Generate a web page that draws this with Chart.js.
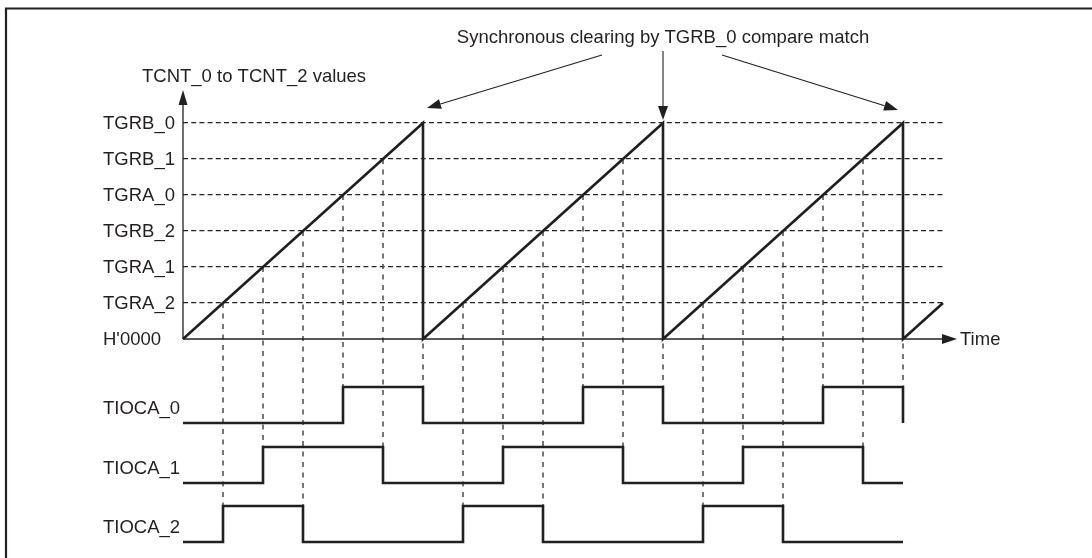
<!DOCTYPE html>
<html>
<head>
<meta charset="utf-8">
<script src="https://cdn.jsdelivr.net/npm/chart.js@4.4.0/dist/chart.umd.min.js"></script>
<style>
  html, body { margin: 0; padding: 0; background: #fff; }
  canvas { display: block; }
</style>
</head>
<body>
<canvas id="timing" width="1092" height="558"></canvas>
<script>
// ---- counter compare levels (y ticks) ----
const levelLabels = ["H'0000", "TGRA_2", "TGRA_1", "TGRB_2", "TGRA_0", "TGRB_1", "TGRB_0"];

// ---- TCNT sawtooth ----
const counterTime  = [0, 6, 6, 12, 12, 18, 18, 19];
const counterValue = [0, 6, 0, 6, 0, 6, 0, 1];

// ---- output waveforms ----
const signalNames = ["TIOCA_0", "TIOCA_1", "TIOCA_2"];
const tioca0Time  = [0, 4, 6, 10, 12, 16, 18];
const tioca0Value = [0, 1, 0, 1, 0, 1, 0];
const tioca1Time  = [0, 2, 5, 8, 11, 14, 17, 18];
const tioca1Value = [0, 1, 0, 1, 0, 1, 0, 0];
const tioca2Time  = [0, 1, 3, 7, 9, 13, 15, 18];
const tioca2Value = [0, 1, 0, 1, 0, 1, 0, 0];

// ---- compare matches: time, counter level, output index ----
const matchTime   = [1, 2, 3, 4, 5, 6, 7, 8, 9, 10, 11, 12, 13, 14, 15, 16, 17, 18];
const matchLevel  = [1, 2, 3, 4, 5, 6, 1, 2, 3, 4, 5, 6, 1, 2, 3, 4, 5, 6];
const matchOutput = [2, 1, 2, 0, 1, 0, 2, 1, 2, 0, 1, 0, 2, 1, 2, 0, 1, 0];

const clearTime = [6, 12, 18];
const noteText = "Synchronous clearing by TGRB_0 compare match";
const yTitle = "TCNT_0 to TCNT_2 values";
const xTitle = "Time";

const INK = "#231f20";
const FONT = '18.5px "Liberation Sans", Arial, Helvetica, sans-serif';

const xy = (t, v) => t.map((x, i) => ({ x, y: v[i] }));

function arrow(ctx, x1, y1, x2, y2, len, half) {
  const a = Math.atan2(y2 - y1, x2 - x1);
  const bx = x2 - Math.cos(a) * len, by = y2 - Math.sin(a) * len;
  ctx.beginPath();
  ctx.moveTo(x1, y1);
  ctx.lineTo(bx, by);
  ctx.stroke();
  ctx.beginPath();
  ctx.moveTo(x2, y2);
  ctx.lineTo(bx + Math.sin(a) * half, by - Math.cos(a) * half);
  ctx.lineTo(bx - Math.sin(a) * half, by + Math.cos(a) * half);
  ctx.closePath();
  ctx.fill();
}

// vertical dashed guides from the counter down to the output edges
const guidesPlugin = {
  id: "guides",
  beforeDatasetsDraw(chart) {
    const { ctx, scales } = chart;
    const sig = [scales.yS0, scales.yS1, scales.yS2];
    ctx.save();
    ctx.strokeStyle = "#4a4a4a";
    ctx.lineWidth = 1.5;
    ctx.setLineDash([5, 5.5]);
    matchTime.forEach((t, i) => {
      const x = Math.round(scales.x.getPixelForValue(t));
      const y1 = scales.y.getPixelForValue(matchLevel[i]);
      const y2 = sig[matchOutput[i]].getPixelForValue(1);
      ctx.beginPath();
      ctx.moveTo(x, y1);
      ctx.lineTo(x, y2);
      ctx.stroke();
    });
    ctx.restore();
  }
};

// frame, axes with arrows, labels and the note
const decorPlugin = {
  id: "decor",
  afterDatasetsDraw(chart) {
    const { ctx, scales } = chart;
    const x0 = scales.x.getPixelForValue(0);
    const y0 = scales.y.getPixelForValue(0);
    ctx.save();
    ctx.strokeStyle = INK;
    ctx.fillStyle = INK;

    // frame (top + left)
    ctx.lineWidth = 2.2;
    ctx.beginPath();
    ctx.moveTo(6, 558);
    ctx.lineTo(6, 8.5);
    ctx.lineTo(1092, 8.5);
    ctx.stroke();

    // axes
    ctx.lineWidth = 1.3;
    arrow(ctx, x0, y0, x0, 90, 15, 4.5);
    arrow(ctx, x0, y0, 957, y0, 15, 5);

    ctx.font = FONT;
    ctx.textBaseline = "middle";
    ctx.textAlign = "left";
    ctx.fillText(xTitle, 960, y0 + 1);
    ctx.fillText(yTitle, 142, 77);

    levelLabels.forEach((lab, i) => {
      ctx.fillText(lab, 103, scales.y.getPixelForValue(i) + 1);
    });
    [scales.yS0, scales.yS1, scales.yS2].forEach((s, i) => {
      ctx.fillText(signalNames[i], 103, s.getPixelForValue(0.4));
    });

    // note + arrows to the clearing points
    const peakY = scales.y.getPixelForValue(6);
    const px = clearTime.map((t) => scales.x.getPixelForValue(t));
    ctx.textAlign = "center";
    ctx.fillText(noteText, px[1], 38);
    ctx.lineWidth = 1.1;
    arrow(ctx, px[1] - 61, 55, px[0] + 4, peakY - 15, 14, 5);
    arrow(ctx, px[1], 51, px[1], peakY - 3, 14, 5);
    arrow(ctx, px[1] + 59, 55, px[2] - 5, peakY - 13, 14, 5);
    ctx.restore();
  }
};

const lineStyle = {
  borderColor: INK,
  borderWidth: 2.6,
  pointRadius: 0,
  tension: 0,
  clip: false,
  fill: false
};

new Chart(document.getElementById("timing"), {
  type: "line",
  data: {
    datasets: [
      { ...lineStyle, label: "TCNT", data: xy(counterTime, counterValue), yAxisID: "y" },
      { ...lineStyle, label: signalNames[0], data: xy(tioca0Time, tioca0Value), yAxisID: "yS0", stepped: true },
      { ...lineStyle, label: signalNames[1], data: xy(tioca1Time, tioca1Value), yAxisID: "yS1", stepped: true },
      { ...lineStyle, label: signalNames[2], data: xy(tioca2Time, tioca2Value), yAxisID: "yS2", stepped: true }
    ]
  },
  options: {
    responsive: false,
    animation: false,
    devicePixelRatio: 1,
    layout: { padding: { left: 103, top: 87, right: 149, bottom: 3 } },
    plugins: { legend: { display: false }, tooltip: { enabled: false } },
    scales: {
      x: { type: "linear", min: 0, max: 19, display: false },
      y: {
        type: "linear",
        position: "left",
        min: -6,
        max: 7,
        afterFit: (s) => { s.width = 80; },
        afterBuildTicks: (s) => { s.ticks = levelLabels.map((_, i) => ({ value: i })); },
        ticks: { display: false },
        grid: {
          drawTicks: false,
          lineWidth: 1.2,
          color: (c) => (c.tick && c.tick.value > 0 ? "#222222" : "rgba(0,0,0,0)")
        },
        border: { display: false, dash: [5, 3.2] }
      },
      yS0: { type: "linear", display: false, min: -3.667, max: 9.333 },
      yS1: { type: "linear", display: false, min: -2, max: 11 },
      yS2: { type: "linear", display: false, min: -0.361, max: 12.639 }
    }
  },
  plugins: [guidesPlugin, decorPlugin]
});
</script>
</body>
</html>
